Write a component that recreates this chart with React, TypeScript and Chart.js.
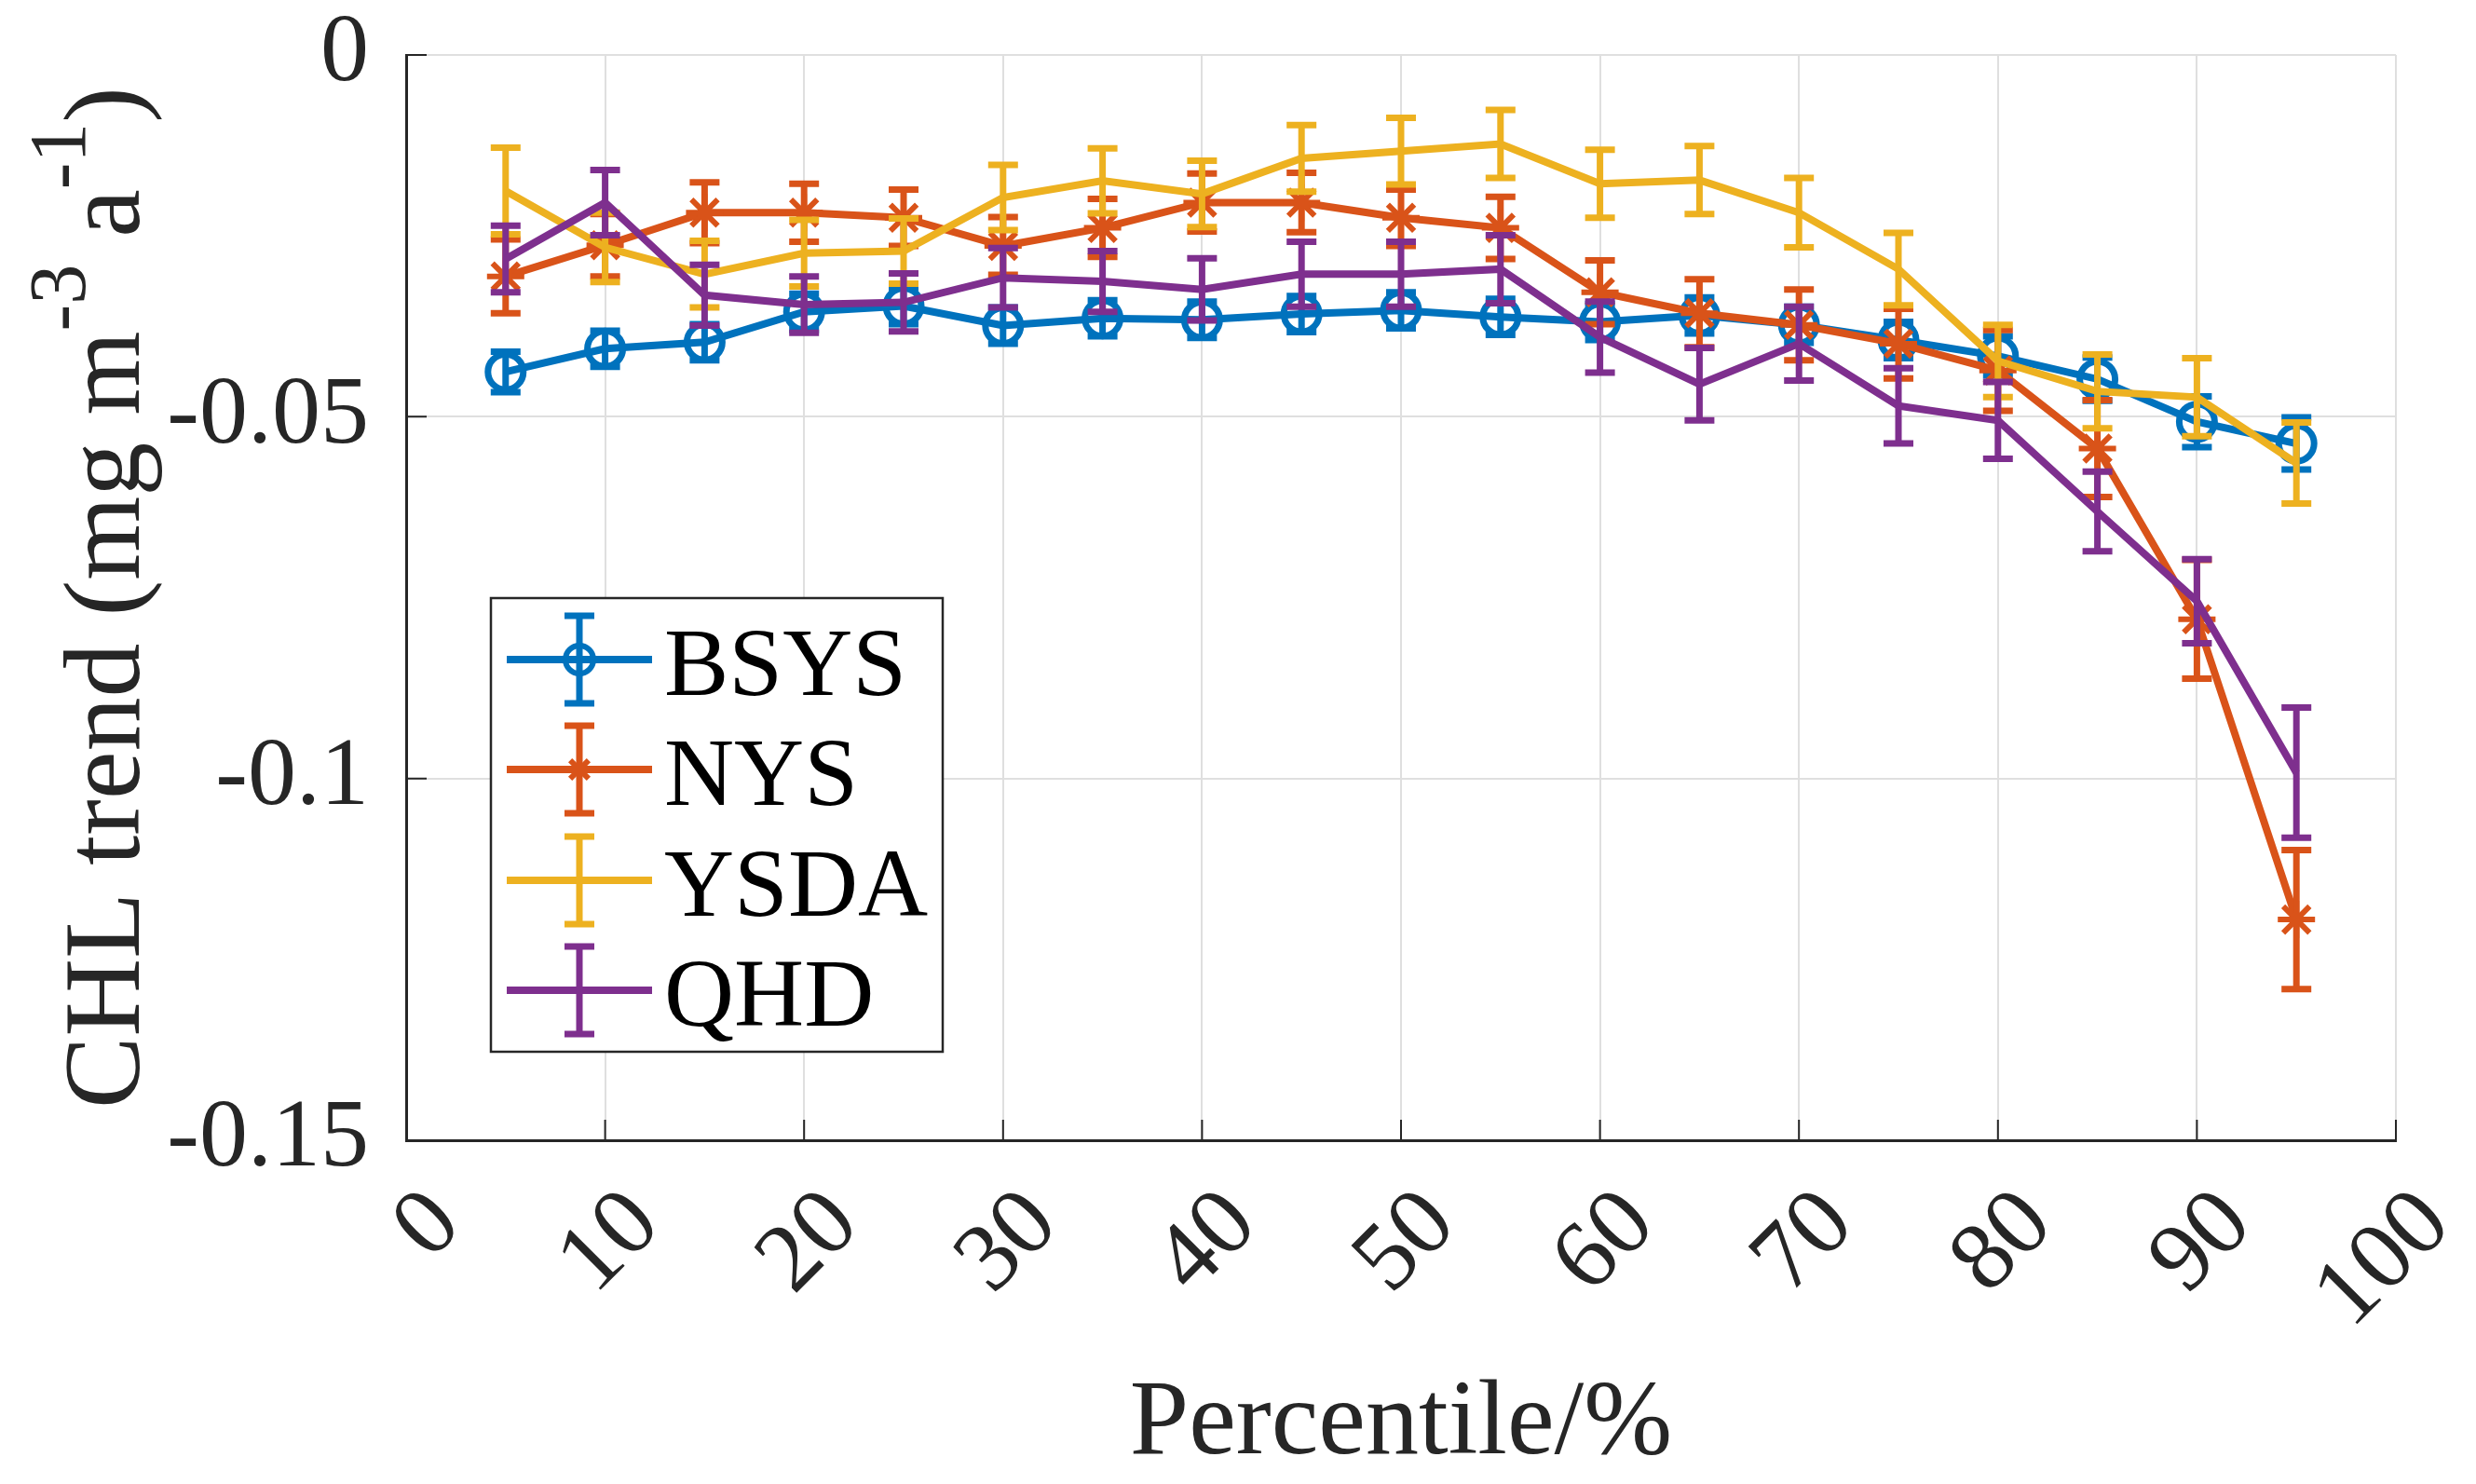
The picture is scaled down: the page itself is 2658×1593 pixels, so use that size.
import React, { useEffect, useRef } from 'react';
import { Chart, registerables } from 'chart.js';

Chart.register(...registerables);

// ---------- data ----------
const percentiles = [5, 10, 15, 20, 25, 30, 35, 40, 45, 50, 55, 60, 65, 70, 75, 80, 85, 90, 95];

const bsys = [-0.0438, -0.0406, -0.0397, -0.0355, -0.0347, -0.0374, -0.0364, -0.0366, -0.0358, -0.0353, -0.0362, -0.0369, -0.0360, -0.0373, -0.0394, -0.0416, -0.0448, -0.0507, -0.0537];
const bsysErr = [0.0028, 0.0025, 0.0025, 0.0025, 0.0025, 0.0025, 0.0025, 0.0025, 0.0025, 0.0025, 0.0025, 0.0025, 0.0025, 0.0025, 0.0025, 0.0027, 0.003, 0.0035, 0.0036];

const nys = [-0.0306, -0.0263, -0.0218, -0.0218, -0.0225, -0.0264, -0.0239, -0.0204, -0.0204, -0.0225, -0.0239, -0.0328, -0.0357, -0.0373, -0.0399, -0.0436, -0.0544, -0.0780, -0.1195];
const nysErr = [0.0051, 0.0043, 0.0042, 0.004, 0.0039, 0.004, 0.004, 0.004, 0.0041, 0.0039, 0.0043, 0.0044, 0.0047, 0.0049, 0.0048, 0.0056, 0.0067, 0.0082, 0.0096];

const ysda = [-0.0188, -0.0266, -0.0303, -0.0274, -0.0271, -0.0197, -0.0174, -0.0192, -0.0143, -0.0133, -0.0123, -0.0178, -0.0173, -0.0218, -0.0296, -0.0423, -0.0465, -0.0473, -0.0564];
const ysdaErr = [0.006, 0.0048, 0.0046, 0.0046, 0.0045, 0.0045, 0.0045, 0.0046, 0.0046, 0.0046, 0.0047, 0.0047, 0.0047, 0.0048, 0.005, 0.005, 0.0051, 0.0054, 0.0056];

const qhd = [-0.0282, -0.0204, -0.0332, -0.0345, -0.0342, -0.0308, -0.0313, -0.0324, -0.0303, -0.0303, -0.0296, -0.0390, -0.0455, -0.0399, -0.0485, -0.0505, -0.0631, -0.0755, -0.0992];
const qhdErr = [0.0046, 0.0045, 0.0042, 0.0039, 0.004, 0.0041, 0.0042, 0.0043, 0.0045, 0.0045, 0.0047, 0.0049, 0.005, 0.0051, 0.0052, 0.0053, 0.0055, 0.0058, 0.009];

const seriesNames = ['BSYS', 'NYS', 'YSDA', 'QHD'];
const seriesColors = ['#0072BD', '#D95319', '#EDB120', '#7E2F8E'];

const xTickValues = [0, 10, 20, 30, 40, 50, 60, 70, 80, 90, 100];
const xTickLabels = ['0', '10', '20', '30', '40', '50', '60', '70', '80', '90', '100'];
const yTickValues = [0, -0.05, -0.1, -0.15];
const yTickLabels = ['0', '-0.05', '-0.1', '-0.15'];

const xTitle = 'Percentile/%';
const yTitleParts = [
  { text: 'CHL trend (mg m', sup: false },
  { text: '-3', sup: true },
  { text: ' a', sup: false },
  { text: '-1', sup: true },
  { text: ')', sup: false },
];

// ---------- styling ----------
const FONT = '"Liberation Serif", "Times New Roman", serif';
const AXIS_COLOR = '#262626';
const GRID_COLOR = '#dfdfdf';

const seriesValues = [bsys, nys, ysda, qhd];
const seriesErrors = [bsysErr, nysErr, ysdaErr, qhdErr];

const errorBarPlugin = {
  id: 'errorBars',
  beforeDatasetDraw(chart: any, args: any) {
    const i = args.index;
    const ctx = chart.ctx;
    const xs = chart.scales.x;
    const ys = chart.scales.y;
    ctx.save();
    ctx.strokeStyle = seriesColors[i];
    ctx.lineWidth = 7;
    ctx.lineCap = 'butt';
    percentiles.forEach((p, k) => {
      const v = seriesValues[i][k];
      const e = seriesErrors[i][k];
      const px = xs.getPixelForValue(p);
      const yt = ys.getPixelForValue(v + e);
      const yb = ys.getPixelForValue(v - e);
      ctx.beginPath();
      ctx.moveTo(px, yt);
      ctx.lineTo(px, yb);
      ctx.moveTo(px - 16, yt);
      ctx.lineTo(px + 16, yt);
      ctx.moveTo(px - 16, yb);
      ctx.lineTo(px + 16, yb);
      ctx.stroke();
    });
    ctx.restore();
  },
};

function drawAsterisk(ctx: CanvasRenderingContext2D, x: number, y: number, r: number) {
  ctx.beginPath();
  ctx.moveTo(x - r, y);
  ctx.lineTo(x + r, y);
  ctx.moveTo(x, y - r);
  ctx.lineTo(x, y + r);
  const d = r * Math.SQRT1_2;
  ctx.moveTo(x - d, y - d);
  ctx.lineTo(x + d, y + d);
  ctx.moveTo(x - d, y + d);
  ctx.lineTo(x + d, y - d);
  ctx.stroke();
}

const decorPlugin = {
  id: 'decor',
  afterDraw(chart: any) {
    const ctx: CanvasRenderingContext2D = chart.ctx;
    const xs = chart.scales.x;
    const ys = chart.scales.y;
    const area = chart.chartArea;
    ctx.save();

    // inner tick marks
    ctx.strokeStyle = AXIS_COLOR;
    ctx.lineWidth = 2;
    ctx.beginPath();
    xTickValues.forEach((v) => {
      const px = xs.getPixelForValue(v);
      ctx.moveTo(px, area.bottom);
      ctx.lineTo(px, area.bottom - 22);
    });
    yTickValues.forEach((v) => {
      const py = ys.getPixelForValue(v);
      ctx.moveTo(area.left, py);
      ctx.lineTo(area.left + 22, py);
    });
    ctx.stroke();

    // x title
    ctx.fillStyle = AXIS_COLOR;
    ctx.font = `114px ${FONT}`;
    ctx.textAlign = 'center';
    ctx.textBaseline = 'alphabetic';
    ctx.fillText(xTitle, (area.left + area.right) / 2, 1560);

    // y title with superscripts
    const mainFont = `116px ${FONT}`;
    const supFont = `86px ${FONT}`;
    let total = 0;
    const widths = yTitleParts.map((part) => {
      ctx.font = part.sup ? supFont : mainFont;
      const w = ctx.measureText(part.text).width;
      total += w;
      return w;
    });
    ctx.save();
    ctx.translate(149, (area.top + area.bottom) / 2);
    ctx.rotate(-Math.PI / 2);
    ctx.textAlign = 'left';
    let cx = -total / 2;
    yTitleParts.forEach((part, idx) => {
      ctx.font = part.sup ? supFont : mainFont;
      ctx.fillText(part.text, cx, part.sup ? -58 : 0);
      cx += widths[idx];
    });
    ctx.restore();

    // legend
    const lx0 = 527, ly0 = 642, lx1 = 1012, ly1 = 1129;
    ctx.fillStyle = '#ffffff';
    ctx.fillRect(lx0, ly0, lx1 - lx0, ly1 - ly0);
    ctx.strokeStyle = AXIS_COLOR;
    ctx.lineWidth = 2.5;
    ctx.strokeRect(lx0, ly0, lx1 - lx0, ly1 - ly0);
    const rowY = [708, 826, 945, 1063];
    seriesNames.forEach((name, i) => {
      const y = rowY[i];
      const c = seriesColors[i];
      ctx.strokeStyle = c;
      ctx.lineWidth = 8;
      ctx.beginPath();
      ctx.moveTo(544, y);
      ctx.lineTo(700, y);
      ctx.stroke();
      ctx.lineWidth = 7;
      ctx.beginPath();
      ctx.moveTo(622, y - 47);
      ctx.lineTo(622, y + 47);
      ctx.moveTo(606, y - 47);
      ctx.lineTo(638, y - 47);
      ctx.moveTo(606, y + 47);
      ctx.lineTo(638, y + 47);
      ctx.stroke();
      if (i === 0) {
        ctx.lineWidth = 6;
        ctx.beginPath();
        ctx.arc(622, y, 15, 0, Math.PI * 2);
        ctx.stroke();
      } else if (i === 1) {
        ctx.lineWidth = 6;
        drawAsterisk(ctx, 622, y, 14);
      }
      ctx.fillStyle = '#000000';
      ctx.font = `104px ${FONT}`;
      ctx.textAlign = 'left';
      ctx.textBaseline = 'alphabetic';
      ctx.fillText(name, 713, y + 38);
    });

    ctx.restore();
  },
};

export default function App() {
  const canvasRef = useRef<HTMLCanvasElement | null>(null);

  useEffect(() => {
    document.body.style.margin = '0';
    const canvas = canvasRef.current;
    if (!canvas) return;

    const pointStyles = ['circle', 'star', 'circle', 'circle'];
    const pointRadii = [19, 20, 0, 0];
    const pointBorders = [7, 6, 0, 0];

    const datasets = seriesNames.map((name, i) => ({
      label: name,
      data: percentiles.map((p, k) => ({ x: p, y: seriesValues[i][k] })),
      borderColor: seriesColors[i],
      backgroundColor: seriesColors[i],
      borderWidth: 8,
      pointStyle: pointStyles[i],
      pointRadius: pointRadii[i],
      pointHoverRadius: pointRadii[i],
      pointBorderWidth: pointBorders[i],
      pointBorderColor: seriesColors[i],
      pointBackgroundColor: 'rgba(0,0,0,0)',
      tension: 0,
      fill: false,
      order: 3 - i,
    }));

    const chart = new Chart(canvas, {
      type: 'line',
      data: { datasets },
      options: {
        responsive: false,
        animation: false,
        devicePixelRatio: 1,
        layout: { padding: { top: 59, right: 86, left: 0, bottom: 0 } },
        plugins: {
          legend: { display: false },
          tooltip: { enabled: false },
        },
        scales: {
          x: {
            type: 'linear',
            min: 0,
            max: 100,
            afterBuildTicks: (scale: any) => {
              scale.ticks = xTickValues.map((v) => ({ value: v }));
            },
            afterFit: (scale: any) => {
              scale.height = 369;
              scale.paddingLeft = 0;
              scale.paddingRight = 0;
            },
            ticks: {
              autoSkip: false,
              minRotation: 45,
              maxRotation: 45,
              padding: 30,
              labelOffset: 43,
              color: AXIS_COLOR,
              font: { family: FONT, size: 104 },
              callback: (value: any) => {
                const idx = xTickValues.indexOf(Number(value));
                return idx >= 0 ? xTickLabels[idx] : '';
              },
            },
            grid: { color: GRID_COLOR, lineWidth: 2, drawTicks: false },
            border: { color: AXIS_COLOR, width: 3 },
          },
          y: {
            type: 'linear',
            min: -0.15,
            max: 0,
            afterBuildTicks: (scale: any) => {
              scale.ticks = yTickValues.map((v) => ({ value: v }));
            },
            afterFit: (scale: any) => {
              scale.width = 436;
              scale.paddingTop = 0;
              scale.paddingBottom = 0;
            },
            ticks: {
              padding: 40,
              color: AXIS_COLOR,
              font: { family: FONT, size: 104 },
              callback: (value: any) => {
                const v = Number(value);
                const idx = yTickValues.findIndex((t) => Math.abs(t - v) < 1e-9);
                return idx >= 0 ? yTickLabels[idx] : '';
              },
            },
            grid: { color: GRID_COLOR, lineWidth: 2, drawTicks: false },
            border: { color: AXIS_COLOR, width: 3 },
          },
        },
      } as any,
      plugins: [errorBarPlugin, decorPlugin],
    });

    return () => {
      chart.destroy();
    };
  }, []);

  return (
    <div style={{ position: 'absolute', left: 0, top: 0, width: 2658, height: 1593, background: '#ffffff' }}>
      <canvas ref={canvasRef} width={2658} height={1593} style={{ display: 'block', width: 2658, height: 1593 }} />
    </div>
  );
}
